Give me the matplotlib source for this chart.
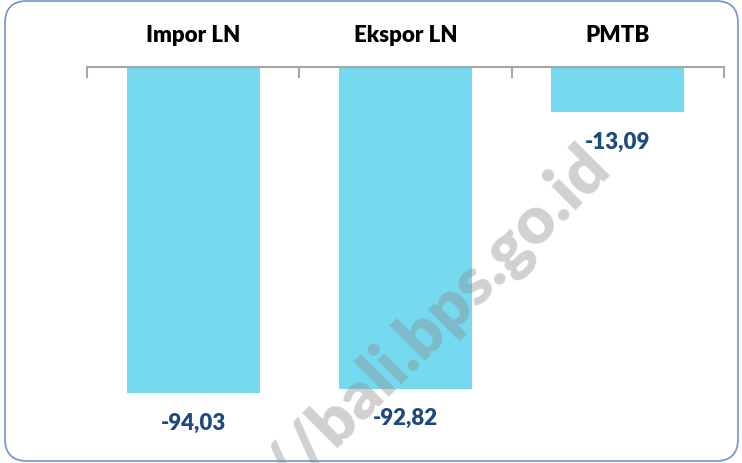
import matplotlib
matplotlib.use('Agg')
import matplotlib.pyplot as plt
from matplotlib.patches import FancyBboxPatch
from matplotlib.transforms import IdentityTransform, blended_transform_factory

# data
categories = ['Impor LN', 'Ekspor LN', 'PMTB']
values = [-94.03, -92.82, -13.09]
value_labels = ['-94,03', '-92,82', '-13,09']

bar_color = '#75D9EF'
label_color = '#1F4A80'

plt.rcParams['font.family'] = ['Lato', 'DejaVu Sans']

fig = plt.figure(figsize=(7.42, 4.64), dpi=100)
ax = fig.add_axes([87/742, 14/464, 637/742, 382/464])

x = list(range(len(categories)))
ax.bar(x, values, width=0.627, color=bar_color, zorder=2)

ax.set_xlim(-0.5, len(categories) - 0.5)
ax.set_ylim(-110.2, 0)

# axis line on top (y=0), ticks between categories pointing down
for s in ['left', 'right', 'bottom']:
    ax.spines[s].set_visible(False)
ax.spines['top'].set_color('#A6A6A6')
ax.spines['top'].set_linewidth(1.5)
ax.set_yticks([])
ax.xaxis.tick_top()
ax.set_xticks([i - 0.5 for i in range(len(categories) + 1)])
ax.set_xticklabels([])
ax.tick_params(axis='x', direction='in', length=8, width=1.5, color='#A6A6A6')

trans = blended_transform_factory(ax.transData, ax.transAxes)
for i, cat in enumerate(categories):
    ax.text(i, 1.085, cat, transform=trans, ha='center', va='center',
            fontsize=16, fontweight='heavy', color='black')

for i, (v, lab) in enumerate(zip(values, value_labels)):
    ax.annotate(lab, (i, v), xytext=(0, -29), textcoords='offset pixels',
                ha='center', va='center', fontsize=16, fontweight='heavy',
                color=label_color, zorder=3)

# watermark
fig.text(0.825, 0.634, 'http://bali.bps.go.id', rotation=45, ha='right', va='baseline',
         fontsize=48, fontweight='heavy', color='#8C8C8C', alpha=0.4, zorder=5,
         rotation_mode='anchor')

# rounded border
border = FancyBboxPatch((5, 2), 733, 460, boxstyle='round,pad=0,rounding_size=22',
                        transform=IdentityTransform(), fill=False,
                        edgecolor='#6F93CC', linewidth=1.2)
fig.patches.append(border)

fig.savefig('out.png', dpi=100)
